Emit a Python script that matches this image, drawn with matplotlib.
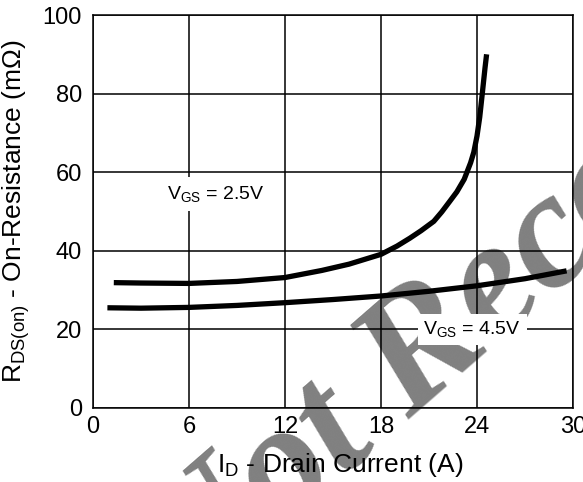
import matplotlib
matplotlib.use("Agg")
import matplotlib.pyplot as plt

plt.rcParams['font.family'] = ['Liberation Sans', 'DejaVu Sans']
plt.rcParams['mathtext.fontset'] = 'custom'
plt.rcParams['mathtext.rm'] = 'Liberation Sans'
plt.rcParams['mathtext.it'] = 'Liberation Sans'
plt.rcParams['mathtext.default'] = 'regular'

# ---- data ----
id_25 = [1.3, 3, 6, 9, 12, 14.3, 16, 18, 19, 19.8, 20.5, 21.3, 21.8, 22.3, 22.74,
         23.2, 23.6, 23.8, 24.0, 24.17, 24.33, 24.5, 24.6]
r_25 = [31.9, 31.8, 31.7, 32.2, 33.2, 35.0, 36.6, 39.1, 41.2, 43.2, 45.1, 47.5, 49.9, 52.6, 55.0,
        58.2, 62.4, 65.1, 69.2, 74.0, 80.0, 86.5, 90.0]
id_45 = [0.9, 3, 6, 9, 12, 15, 18, 21, 24, 27, 29.6]
r_45 = [25.5, 25.4, 25.6, 26.1, 26.8, 27.6, 28.5, 29.7, 31.1, 32.9, 34.9]
x_ticks = [0, 6, 12, 18, 24, 30]
y_ticks = [0, 20, 40, 60, 80, 100]
label_25 = r'V$_{GS}$ = 2.5V'
label_45 = r'V$_{GS}$ = 4.5V'
x_label = r'I$_{D}$ - Drain Current (A)'
y_label = r'R$_{DS(on)}$ - On-Resistance (mΩ)'
watermark = 'Not Recommended'

fig = plt.figure(figsize=(5.83, 4.82), dpi=100)
ax = fig.add_axes([93/583, 1-408/482, 480/583, 393/482])

ax.plot(id_25, r_25, color='black', lw=3.8, solid_capstyle='butt',
        solid_joinstyle='round', zorder=2)
ax.plot(id_45, r_45, color='black', lw=3.8, solid_capstyle='butt',
        solid_joinstyle='round', zorder=2)

ax.set_xlim(0, 30)
ax.set_ylim(0, 100)
ax.set_xticks(x_ticks)
ax.set_yticks(y_ticks)
ax.tick_params(length=0, labelsize=17)
ax.tick_params(axis='x', pad=6)
ax.tick_params(axis='y', pad=8)
ax.grid(True, color='black', lw=1.1)
for s in ax.spines.values():
    s.set_linewidth(1.1)

ax.set_xlabel(x_label, fontsize=19, va='center')
ax.xaxis.set_label_coords(0.515, -0.145)
ax.set_ylabel(y_label, fontsize=19, va='center')
ax.yaxis.set_label_coords(-0.16, 0.5)

ax.text(4.6, 53.2, label_25, fontsize=14, ha='left', va='baseline',
        bbox=dict(facecolor='white', edgecolor='none', pad=5), zorder=3)
ax.text(23.7, 20, label_45, fontsize=14, ha='center', va='center',
        bbox=dict(facecolor='white', edgecolor='none', pad=4), zorder=3)

ax.text(0.3256, -0.2685, watermark, transform=fig.transFigure, fontsize=120,
        family='Liberation Serif', weight='bold', style='italic', color='#808080',
        rotation=41, rotation_mode='anchor', ha='left', va='baseline',
        clip_on=False, zorder=0.8)

fig.savefig('out.png', dpi=100)
